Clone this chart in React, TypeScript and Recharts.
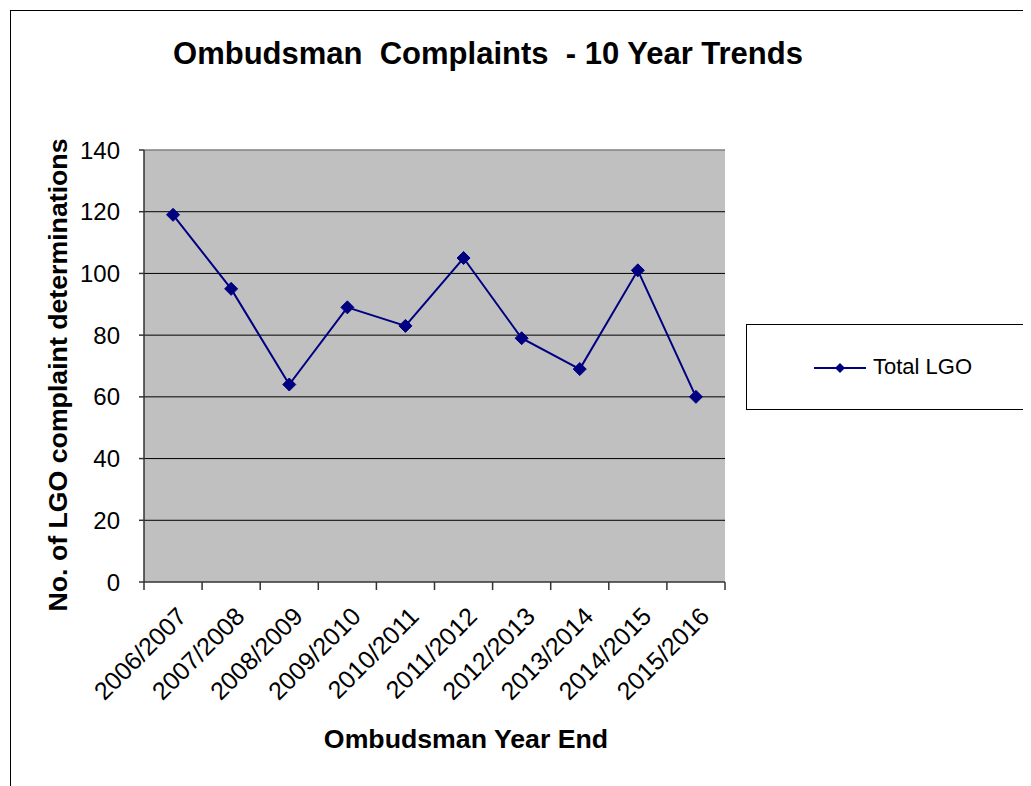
import React from "react";
import { LineChart, Line, XAxis, YAxis, CartesianGrid, ReferenceLine } from "recharts";

const categories = ["2006/2007", "2007/2008", "2008/2009", "2009/2010", "2010/2011", "2011/2012", "2012/2013", "2013/2014", "2014/2015", "2015/2016"];
const totalLGO = [119, 95, 64, 89, 83, 105, 79, 69, 101, 60];
const yTicks = [0, 20, 40, 60, 80, 100, 120, 140];
const gridValues = [20, 40, 60, 80, 100, 120];

const data = categories.map((c, i) => ({ year: c, total: totalLGO[i] }));

const FONT = '"Liberation Sans", Arial, sans-serif';
const NAVY = "#000080";
const PLOT_W = 581;
const HALF_BAND = PLOT_W / categories.length / 2;

const Diamond = (props: any) => {
  const { cx, cy } = props;
  if (cx == null || cy == null) return null;
  const r = 6.5;
  return <polygon points={`${cx},${cy - r} ${cx + r},${cy} ${cx},${cy + r} ${cx - r},${cy}`} fill={NAVY} stroke={NAVY} strokeWidth={1} />;
};

const XTick = (props: any) => {
  const { x, y, payload, index } = props;
  const last = index === categories.length - 1;
  const ax = x + 15;
  const ay = y + 36;
  return (
    <g>
      <line x1={x - HALF_BAND} x2={x - HALF_BAND} y1={y} y2={y + 8} stroke="#333" strokeWidth={1.5} />
      {last && <line x1={x + HALF_BAND} x2={x + HALF_BAND} y1={y} y2={y + 8} stroke="#333" strokeWidth={1.5} />}
      <text x={ax} y={ay} textAnchor="end" fontSize={25} fontFamily={FONT} fill="#000" transform={`rotate(-45 ${ax} ${ay})`}>
        {payload.value}
      </text>
    </g>
  );
};

export default function App() {
  return (
    <div style={{ position: "relative", width: 1023, height: 778, overflow: "hidden", background: "#fff", fontFamily: FONT }}>
      <div style={{ position: "absolute", left: 2, top: 2, width: 1100, height: 900, border: "1px solid #000" }} />
      <div style={{ position: "absolute", left: 0, top: 28, width: 960, textAlign: "center", fontSize: 31, fontWeight: "bold", whiteSpace: "pre", color: "#000" }}>
        {"Ombudsman  Complaints  - 10 Year Trends"}
      </div>
      <div style={{ position: "absolute", left: 50, top: 367, width: 0, height: 0 }}>
        <div style={{ position: "absolute", left: 0, top: 0, transform: "translate(-50%, -50%) rotate(-90deg)", whiteSpace: "nowrap", fontSize: 26.7, fontWeight: "bold", color: "#000" }}>
          No. of LGO complaint determinations
        </div>
      </div>
      <div style={{ position: "absolute", left: 458, top: 716, transform: "translateX(-50%)", whiteSpace: "nowrap", fontSize: 26.7, fontWeight: "bold", color: "#000" }}>
        Ombudsman Year End
      </div>
      <div style={{ position: "absolute", left: 0, top: 0 }}>
        <LineChart width={1023} height={778} data={data} margin={{ top: 142, right: 306, bottom: 84, left: 76 }}>
          <CartesianGrid fill="#c0c0c0" stroke="#000" strokeOpacity={1} vertical={false} horizontalValues={gridValues} />
          <ReferenceLine y={140} stroke="#808080" strokeWidth={1.5} />
          <XAxis dataKey="year" scale="band" height={120} axisLine={{ stroke: "#333", strokeWidth: 1.5 }} tickLine={false} tickSize={0} tickMargin={0} interval={0} tick={<XTick />} />
          <YAxis yAxisId={0} domain={[0, 140]} ticks={yTicks} width={60} axisLine={{ stroke: "#333", strokeWidth: 1.5 }} tickLine={{ stroke: "#333", strokeWidth: 1.5 }} tickSize={5} tickMargin={19} tick={{ fontSize: 24, fill: "#000", fontFamily: FONT }} interval={0} />
          <YAxis yAxisId="r" orientation="right" domain={[0, 140]} width={0} tick={false} tickLine={false} axisLine={{ stroke: "#808080", strokeWidth: 1.5 }} />
          <Line yAxisId={0} type="linear" dataKey="total" name="Total LGO" stroke={NAVY} strokeWidth={2} dot={<Diamond />} activeDot={false} isAnimationActive={false} />
        </LineChart>
      </div>
      <div style={{ position: "absolute", left: 738, top: 316, width: 284, height: 86, border: "1px solid #000", boxSizing: "border-box", background: "#fff" }}>
        <svg width={60} height={20} style={{ position: "absolute", left: 67, top: 33 }}>
          <line x1={0} x2={52} y1={10} y2={10} stroke={NAVY} strokeWidth={2} />
          <polygon points="26,5 31,10 26,15 21,10" fill={NAVY} />
        </svg>
        <div style={{ position: "absolute", left: 126, top: 29, fontSize: 22, lineHeight: "26px", color: "#000", whiteSpace: "nowrap" }}>Total LGO</div>
      </div>
    </div>
  );
}
